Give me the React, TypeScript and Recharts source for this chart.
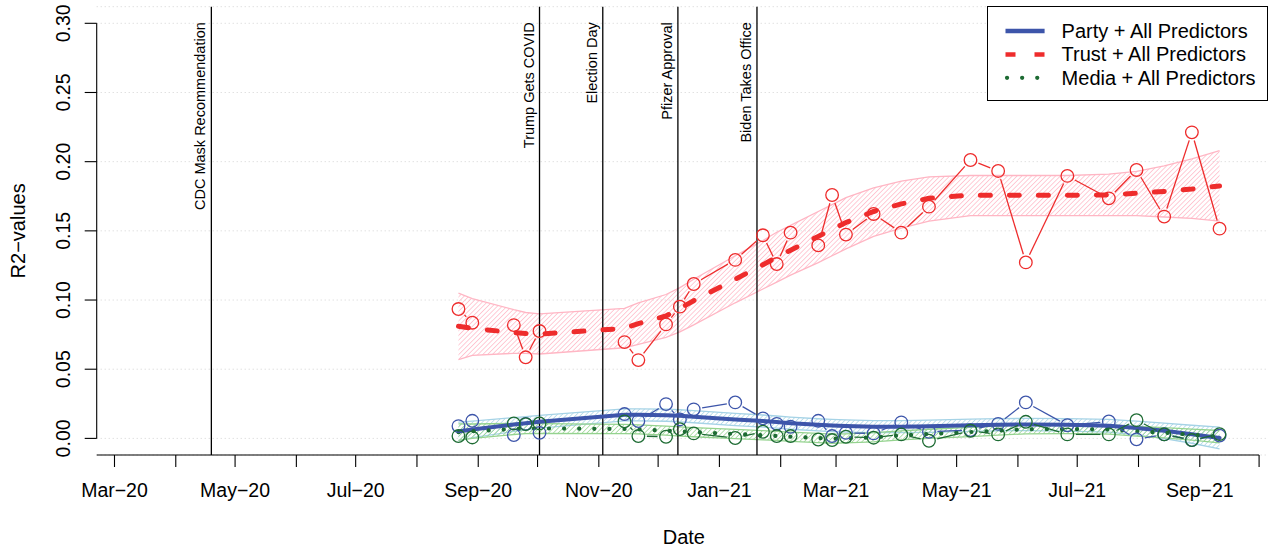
import {
  ComposedChart,
  Line,
  Area,
  Scatter,
  XAxis,
  YAxis,
  CartesianGrid,
  ReferenceLine,
  Legend,
  Label,
} from "recharts";

const FONT = '"Liberation Sans", Arial, Helvetica, sans-serif';

// survey waves
const waveDates = [
  "2020-08-22", "2020-08-29", "2020-09-19", "2020-09-25", "2020-10-02",
  "2020-11-14", "2020-11-21", "2020-12-05", "2020-12-12", "2020-12-19",
  "2021-01-09", "2021-01-23", "2021-01-30", "2021-02-06", "2021-02-20",
  "2021-02-27", "2021-03-06", "2021-03-20", "2021-04-03", "2021-04-17",
  "2021-05-08", "2021-05-22", "2021-06-05", "2021-06-26", "2021-07-17",
  "2021-07-31", "2021-08-14", "2021-08-28", "2021-09-11",
];
// no line drawn after these waves (missing weeks)
const gapsAfter = ["2020-08-29", "2020-10-02", "2021-02-06"];

const partyRaw = [
  0.0089, 0.0127, 0.0024, 0.0105, 0.004, 0.0176, 0.0125, 0.0248, 0.0137, 0.021,
  0.026, 0.0145, 0.0105, 0.0084, 0.0127, 0.0017, 0.004, 0.0036, 0.0116, 0.0048,
  0.006, 0.0105, 0.026, 0.0095, 0.0122, -0.0007, 0.003, -0.0012, 0.002,
];
const partyFit = [
  0.005, 0.0065, 0.01, 0.011, 0.012, 0.017, 0.017, 0.0168, 0.0163, 0.0157,
  0.0137, 0.0125, 0.0118, 0.011, 0.0098, 0.0093, 0.009, 0.0085, 0.0085, 0.0088,
  0.0095, 0.0099, 0.01, 0.0098, 0.0092, 0.0075, 0.0055, 0.003, 0.0003,
];
const partyLo = [
  -0.0018, 0.0005, 0.005, 0.0062, 0.0074, 0.0126, 0.0126, 0.0124, 0.0119, 0.0113,
  0.0093, 0.0081, 0.0074, 0.0066, 0.0054, 0.0049, 0.0046, 0.0041, 0.0041, 0.0044,
  0.0051, 0.0055, 0.0056, 0.0053, 0.0046, 0.0025, -0.0001, -0.0035, -0.0075,
];
const partyHi = [
  0.0118, 0.0125, 0.015, 0.0158, 0.0166, 0.0214, 0.0214, 0.0212, 0.0207, 0.0201,
  0.0181, 0.0169, 0.0162, 0.0154, 0.0142, 0.0137, 0.0134, 0.0129, 0.0129, 0.0132,
  0.0139, 0.0143, 0.0144, 0.0143, 0.0138, 0.0125, 0.0111, 0.0095, 0.0081,
];

const trustRaw = [
  0.0935, 0.0836, 0.0819, 0.0586, 0.0776, 0.0696, 0.0566, 0.0824, 0.0952, 0.1116,
  0.129, 0.1468, 0.126, 0.1487, 0.1395, 0.1759, 0.1473, 0.1622, 0.1487, 0.1675,
  0.2012, 0.1933, 0.1272, 0.1897, 0.1735, 0.194, 0.1603, 0.2212, 0.1516,
];
const trustFit = [
  0.081, 0.0795, 0.0765, 0.0758, 0.0754, 0.0795, 0.083, 0.0885, 0.094, 0.0995,
  0.115, 0.1255, 0.131, 0.136, 0.146, 0.151, 0.156, 0.164, 0.1695, 0.1735,
  0.1758, 0.1758, 0.1757, 0.1757, 0.176, 0.1772, 0.1785, 0.1802, 0.1824,
];
const trustLo = [
  0.057, 0.06, 0.0615, 0.0615, 0.061, 0.0655, 0.068, 0.073, 0.077, 0.082,
  0.098, 0.108, 0.113, 0.118, 0.127, 0.132, 0.137, 0.146, 0.152, 0.157,
  0.161, 0.161, 0.161, 0.161, 0.161, 0.161, 0.16, 0.159, 0.157,
];
const trustHi = [
  0.105, 0.101, 0.093, 0.091, 0.09, 0.094, 0.098, 0.104, 0.109, 0.115,
  0.132, 0.143, 0.149, 0.154, 0.164, 0.169, 0.174, 0.181, 0.186, 0.189,
  0.19, 0.19, 0.19, 0.19, 0.191, 0.193, 0.197, 0.202, 0.208,
];

const mediaRaw = [
  0.0017, 0.0007, 0.0108, 0.0103, 0.0108, 0.0123, 0.0017, 0.0012, 0.0067, 0.0036,
  0.0003, 0.0048, 0.0017, 0.0017, -0.0008, -0.0012, 0.0012, 0.0005, 0.0029, -0.0017,
  0.0055, 0.0029, 0.012, 0.0029, 0.0029, 0.0132, 0.0029, -0.0012, 0.0031,
];
const mediaFit = [
  0.0045, 0.0052, 0.0068, 0.0071, 0.0072, 0.0068, 0.0065, 0.0056, 0.005, 0.0045,
  0.0032, 0.0023, 0.0018, 0.0012, 0.0003, -0.0002, 0.0, 0.0008, 0.0022, 0.0033,
  0.0046, 0.0056, 0.0066, 0.0068, 0.0064, 0.0052, 0.0041, 0.0027, 0.0012,
];
const mediaLo = [
  -0.0015, 0.0, 0.0028, 0.0034, 0.0037, 0.0035, 0.0032, 0.0023, 0.0017, 0.0012,
  -0.0001, -0.001, -0.0015, -0.0021, -0.003, -0.0035, -0.0033, -0.0025, -0.0011, 0.0,
  0.0013, 0.0023, 0.0033, 0.0035, 0.0031, 0.0017, 0.0004, -0.0013, -0.0033,
];
const mediaHi = [
  0.0105, 0.0104, 0.0108, 0.0108, 0.0107, 0.0101, 0.0098, 0.0089, 0.0083, 0.0078,
  0.0065, 0.0056, 0.0051, 0.0045, 0.0036, 0.0031, 0.0033, 0.0041, 0.0055, 0.0066,
  0.0079, 0.0089, 0.0099, 0.0101, 0.0097, 0.0087, 0.0078, 0.0067, 0.0057,
];

const events = [
  { date: "2020-04-19", label: "CDC Mask Recommendation" },
  { date: "2020-10-02", label: "Trump Gets COVID" },
  { date: "2020-11-03", label: "Election Day" },
  { date: "2020-12-11", label: "Pfizer Approval" },
  { date: "2021-01-20", label: "Biden Takes Office" },
];

const tickMonths = [
  "2020-03-01", "2020-04-01", "2020-05-01", "2020-06-01", "2020-07-01",
  "2020-08-01", "2020-09-01", "2020-10-01", "2020-11-01", "2020-12-01",
  "2021-01-01", "2021-02-01", "2021-03-01", "2021-04-01", "2021-05-01",
  "2021-06-01", "2021-07-01", "2021-08-01", "2021-09-01", "2021-10-01",
];
const tickLabels = [
  "Mar−20", "", "May−20", "", "Jul−20", "", "Sep−20", "", "Nov−20", "",
  "Jan−21", "", "Mar−21", "", "May−21", "", "Jul−21", "", "Sep−21", "",
];
const yTicks = [0, 0.05, 0.1, 0.15, 0.2, 0.25, 0.3];

const t = (s: string) =>
  Date.UTC(+s.slice(0, 4), +s.slice(5, 7) - 1, +s.slice(8, 10));

const xMin = t("2020-02-21");
const xMax = t("2021-10-05");
const yMin = -0.012;
const yMax = 0.312;

const fitRows = waveDates.map((d, i) => ({
  t: t(d),
  partyFit: partyFit[i],
  partyBand: [partyLo[i], partyHi[i]],
  trustFit: trustFit[i],
  trustBand: [trustLo[i], trustHi[i]],
  mediaFit: mediaFit[i],
  mediaBand: [mediaLo[i], mediaHi[i]],
}));

const rawRows = (vals: number[]) =>
  waveDates.map((d, i) => ({ t: t(d), v: vals[i] }));

const breakIdx = new Set(gapsAfter.map((d) => waveDates.indexOf(d)));

const series = [
  {
    name: "Party + All Predictors",
    raw: partyRaw,
    key: "party",
    color: "#3d55aa",
    band: "#a6d3e6",
    dash: undefined,
    width: 4,
  },
  {
    name: "Trust + All Predictors",
    raw: trustRaw,
    key: "trust",
    color: "#ee2c2c",
    band: "#ffb6c4",
    dash: "10 19",
    width: 5,
  },
  {
    name: "Media + All Predictors",
    raw: mediaRaw,
    key: "media",
    color: "#1d6b33",
    band: "#95d38f",
    dash: "0.1 15",
    width: 4.2,
  },
];

// R type="b": segments stop short of each circle
const gapLine = (color: string) => (props: any) => {
  const pts = props.points || [];
  const segs: any[] = [];
  for (let i = 0; i < pts.length - 1; i++) {
    if (breakIdx.has(i)) continue;
    const a = pts[i];
    const b = pts[i + 1];
    const dx = b.x - a.x;
    const dy = b.y - a.y;
    const len = Math.hypot(dx, dy);
    const g = 8.5;
    if (len <= 2 * g) continue;
    const ux = dx / len;
    const uy = dy / len;
    segs.push(
      <line
        key={i}
        x1={a.x + ux * g}
        y1={a.y + uy * g}
        x2={b.x - ux * g}
        y2={b.y - uy * g}
        stroke={color}
        strokeWidth={1.3}
      />
    );
  }
  return <g>{segs}</g>;
};

const ring = (color: string) => (p: any) =>
  (
    <circle cx={p.cx} cy={p.cy} r={6.3} fill="none" stroke={color} strokeWidth={1.3} />
  );

const XTick = (p: any) => {
  const i = tickMonths.findIndex((m) => t(m) === p.payload.value);
  const txt = i >= 0 ? tickLabels[i] : "";
  if (!txt) return <g />;
  return (
    <text x={p.x} y={p.y + 14} textAnchor="middle" fontSize={19.5} fontFamily={FONT} fill="#000">
      {txt}
    </text>
  );
};

const YTick = (p: any) => (
  <text
    x={p.x}
    y={p.y}
    transform={`rotate(-90 ${p.x} ${p.y})`}
    textAnchor="middle"
    fontSize={19.5}
    fontFamily={FONT}
    fill="#000"
  >
    {Number(p.payload.value).toFixed(2)}
  </text>
);

const EventLabel = (p: any) => {
  const vb = p.viewBox || {};
  const x = vb.x - 6;
  const y = vb.y + 15.5;
  return (
    <text
      x={x}
      y={y}
      transform={`rotate(-90 ${x} ${y})`}
      textAnchor="end"
      fontSize={14.5}
      fontFamily={FONT}
      fill="#000"
    >
      {p.text}
    </text>
  );
};

const LegendBox = () => (
  <div
    style={{
      width: 281,
      height: 95,
      border: "1px solid #000",
      background: "#fff",
      boxSizing: "border-box",
    }}
  >
    <svg width={279} height={93}>
      {series.map((s, i) => {
        const cy = 24 + i * 23.4;
        return (
          <g key={s.key}>
            <line
              x1={s.key === "media" ? 19 : 17.5}
              x2={56.6}
              y1={cy}
              y2={cy}
              stroke={s.color}
              strokeWidth={s.key === "media" ? 4.2 : 4.5}
              strokeDasharray={s.key === "trust" ? "10 19" : s.dash}
              strokeLinecap={s.key === "media" ? "round" : "butt"}
            />
            <text x={73.6} y={cy + 7} fontSize={20} fontFamily={FONT} fill="#000">
              {s.name}
            </text>
          </g>
        );
      })}
    </svg>
  </div>
);

export default function App() {
  return (
    <div style={{ position: "absolute", left: 0, top: 0, width: 1269, height: 550, background: "#fff" }}>
      <ComposedChart
        width={1269}
        height={550}
        data={fitRows}
        margin={{ top: 6.7, right: 2, bottom: 0, left: 0 }}
        style={{ fontFamily: FONT }}
      >
        <defs>
          {series.map((s) => (
            <pattern
              key={s.key}
              id={`hatch-${s.key}`}
              width={3.4}
              height={3.4}
              patternUnits="userSpaceOnUse"
              patternTransform="rotate(45)"
            >
              <line x1={0} y1={0} x2={0} y2={3.4} stroke={s.band} strokeWidth={1.4} />
            </pattern>
          ))}
        </defs>
        <CartesianGrid horizontal vertical={false} stroke="#d3d3d3" strokeDasharray="1 3" />
        <XAxis
          dataKey="t"
          type="number"
          domain={[xMin, xMax]}
          allowDataOverflow
          ticks={tickMonths.map(t)}
          interval={0}
          tick={XTick}
          tickSize={12}
          tickMargin={16}
          tickLine={{ stroke: "#000", strokeWidth: 1.1 }}
          axisLine={false}
          height={95}
          label={
            <Label
              content={(p: any) => {
                const vb = p.viewBox;
                return (
                  <text
                    x={vb.x + vb.width / 2 + 2}
                    y={vb.y + 89}
                    textAnchor="middle"
                    fontSize={20}
                    fontFamily={FONT}
                    fill="#000"
                  >
                    Date
                  </text>
                );
              }}
            />
          }
        />
        <YAxis
          type="number"
          domain={[yMin, yMax]}
          allowDataOverflow
          ticks={yTicks}
          interval={0}
          tick={YTick}
          tickSize={12}
          tickMargin={15}
          tickLine={{ stroke: "#000", strokeWidth: 1.1 }}
          axisLine={false}
          width={96.7}
          label={
            <Label
              content={(p: any) => {
                const vb = p.viewBox;
                const x = vb.x + 25;
                const y = vb.y + vb.height / 2;
                return (
                  <text
                    x={x}
                    y={y}
                    transform={`rotate(-90 ${x} ${y})`}
                    textAnchor="middle"
                    fontSize={20}
                    fontFamily={FONT}
                    fill="#000"
                  >
                    R2−values
                  </text>
                );
              }}
            />
          }
        />
        {/* R-style axis lines */}
        <ReferenceLine
          segment={[
            { x: xMin, y: 0 },
            { x: xMin, y: 0.3 },
          ]}
          stroke="#000"
          strokeWidth={1.1}
          ifOverflow="visible"
        />
        <ReferenceLine
          segment={[
            { x: xMin, y: yMin },
            { x: t(tickMonths[tickMonths.length - 1]), y: yMin },
          ]}
          stroke="#000"
          strokeWidth={1.1}
          ifOverflow="visible"
        />
        {events.map((e) => (
          <ReferenceLine
            key={e.date}
            x={t(e.date)}
            stroke="#000"
            strokeWidth={1.3}
            ifOverflow="visible"
            label={<EventLabel text={e.label} />}
          />
        ))}
        {series.flatMap((s) => [
          <Area
            key={`${s.key}-band`}
            dataKey={`${s.key}Band`}
            type="linear"
            stroke={s.band}
            strokeWidth={1.3}
            fill={`url(#hatch-${s.key})`}
            fillOpacity={1}
            isAnimationActive={false}
            legendType="none"
          />,
          <Scatter
            key={`${s.key}-raw`}
            data={rawRows(s.raw)}
            dataKey="v"
            fill={s.color}
            shape={ring(s.color)}
            line={gapLine(s.color)}
            lineType="joint"
            isAnimationActive={false}
            legendType="none"
          />,
          <Line
            key={`${s.key}-fit`}
            dataKey={`${s.key}Fit`}
            name={s.name}
            type="linear"
            stroke={s.color}
            strokeWidth={s.width}
            strokeDasharray={s.dash}
            strokeLinecap="round"
            dot={false}
            activeDot={false}
            isAnimationActive={false}
          />,
        ])}
        <Legend
          layout="horizontal"
          verticalAlign="middle"
          align="center"
          wrapperStyle={{ left: 987, top: 6, width: 281, height: 95 }}
          content={() => <LegendBox />}
        />
      </ComposedChart>
    </div>
  );
}
